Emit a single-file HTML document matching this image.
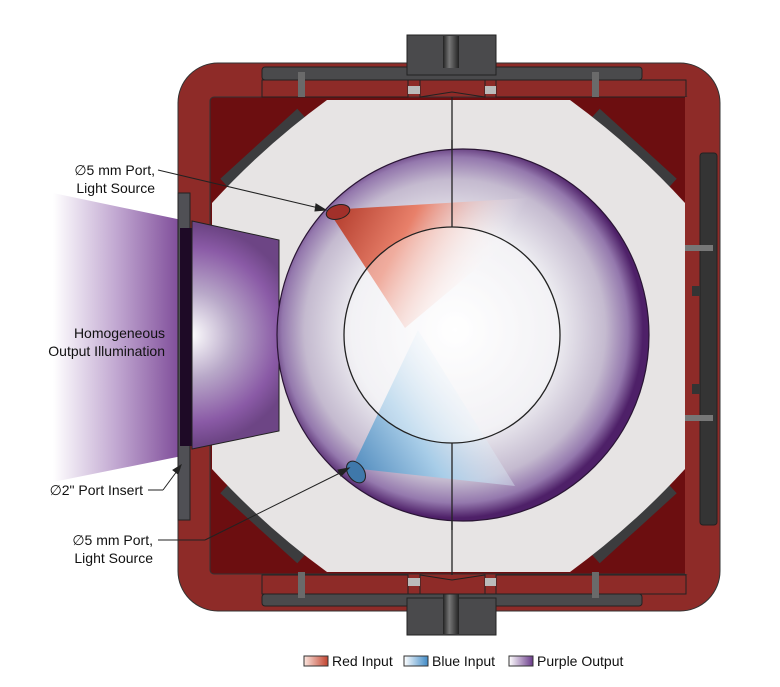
<!DOCTYPE html>
<html><head><meta charset="utf-8"><style>
html,body{margin:0;padding:0;background:#fff}
svg{display:block}
text{font-family:"Liberation Sans",sans-serif;font-size:14px;fill:#111}
</style></head><body>
<svg width="780" height="687" viewBox="0 0 780 687" xmlns="http://www.w3.org/2000/svg">
<defs>
<linearGradient id="beam" x1="0" x2="1" y1="0" y2="0">
<stop offset="0" stop-color="#fff"/><stop offset="0.5" stop-color="#c0a6d0"/><stop offset="1" stop-color="#7d4a98"/></linearGradient>
<radialGradient id="sph" cx="455" cy="330" r="188" gradientUnits="userSpaceOnUse">
<stop offset="0" stop-color="#ffffff"/><stop offset="0.55" stop-color="#ecebf0"/><stop offset="0.8" stop-color="#c4bacf"/><stop offset="0.92" stop-color="#9478ad"/><stop offset="1" stop-color="#4e2068"/></radialGradient>
<radialGradient id="ins" cx="190" cy="335" r="110" gradientUnits="userSpaceOnUse">
<stop offset="0" stop-color="#fff"/><stop offset="0.4" stop-color="#b8a8c8"/><stop offset="0.8" stop-color="#8a5aa6"/><stop offset="1" stop-color="#6d4585"/></radialGradient>
<linearGradient id="red" x1="330" y1="210" x2="480" y2="290" gradientUnits="userSpaceOnUse">
<stop offset="0" stop-color="#b0392a"/><stop offset="0.45" stop-color="#e8806a"/><stop offset="1" stop-color="#fff" stop-opacity="0"/></linearGradient>
<linearGradient id="blue" x1="350" y1="475" x2="490" y2="380" gradientUnits="userSpaceOnUse">
<stop offset="0" stop-color="#4a86ba"/><stop offset="0.45" stop-color="#a8cde8"/><stop offset="1" stop-color="#fff" stop-opacity="0"/></linearGradient>
<linearGradient id="lr" x1="0" x2="1"><stop offset="0" stop-color="#fbe6df"/><stop offset="1" stop-color="#c2432f"/></linearGradient>
<linearGradient id="lb" x1="0" x2="1"><stop offset="0" stop-color="#fff"/><stop offset="1" stop-color="#3f8ac6"/></linearGradient>
<linearGradient id="lp" x1="0" x2="1"><stop offset="0" stop-color="#fff"/><stop offset="1" stop-color="#6a3a8a"/></linearGradient>
<linearGradient id="pin" x1="0" x2="1"><stop offset="0" stop-color="#222"/><stop offset="0.4" stop-color="#777"/><stop offset="1" stop-color="#222"/></linearGradient>
</defs>

<polygon points="53,193 182,220 182,456 53,482" fill="url(#beam)"/>

<rect x="178" y="63" width="542" height="548" rx="40" fill="#8e2b28" stroke="#333" stroke-width="1"/>
<rect x="210" y="97" width="480" height="477" rx="4" fill="#6c0e10" stroke="#333" stroke-width="1"/>

<rect x="262" y="67" width="380" height="13" rx="3" fill="#4a4a4c" stroke="#222"/>
<rect x="407" y="35" width="89" height="40" fill="#4a4a4c" stroke="#222"/>
<rect x="443" y="36" width="16" height="32" fill="url(#pin)"/>
<rect x="262" y="80" width="146" height="17" fill="#8e2b28" stroke="#222"/>
<rect x="496" y="80" width="190" height="17" fill="#8e2b28" stroke="#222"/>
<polygon points="420,80 485,80 485,97 452,92 420,97" fill="#8e2b28" stroke="#222"/>
<rect x="408" y="86" width="12" height="8" fill="#bbb"/><rect x="485" y="86" width="11" height="8" fill="#bbb"/>
<rect x="298" y="72" width="7" height="25" fill="#6a6a6a"/><rect x="592" y="72" width="7" height="25" fill="#6a6a6a"/>
<rect x="262" y="594" width="380" height="12" rx="3" fill="#4a4a4c" stroke="#222"/>
<rect x="407" y="598" width="89" height="37" fill="#4a4a4c" stroke="#222"/>
<rect x="443" y="590" width="16" height="44" fill="url(#pin)"/>
<rect x="262" y="575" width="146" height="19" fill="#8e2b28" stroke="#222"/>
<rect x="496" y="575" width="190" height="19" fill="#8e2b28" stroke="#222"/>
<polygon points="420,594 485,594 485,575 452,580 420,575" fill="#8e2b28" stroke="#222"/>
<rect x="408" y="578" width="12" height="8" fill="#bbb"/><rect x="485" y="578" width="11" height="8" fill="#bbb"/>
<rect x="298" y="572" width="7" height="26" fill="#6a6a6a"/><rect x="592" y="572" width="7" height="26" fill="#6a6a6a"/>

<rect x="685" y="97" width="32" height="477" fill="#8e2b28"/>
<rect x="700" y="153" width="17" height="372" rx="3" fill="#343434" stroke="#222"/>
<rect x="685" y="245" width="28" height="6" fill="#777"/><rect x="685" y="415" width="28" height="6" fill="#777"/>
<rect x="692" y="286" width="8" height="10" fill="#343434"/><rect x="692" y="384" width="8" height="10" fill="#343434"/>

<rect x="178" y="193" width="12" height="327" fill="#505055" stroke="#222"/>
<rect x="180" y="228" width="13" height="218" fill="#1e0a26"/>

<g stroke="#3c3c3e" stroke-width="17" stroke-linecap="butt">
<line x1="226" y1="185" x2="303" y2="115"/>
<line x1="671" y1="185" x2="594" y2="115"/>
<line x1="226" y1="487" x2="303" y2="557"/>
<line x1="671" y1="487" x2="594" y2="557"/>
</g>
<path d="M327,100 L570,100 Q633,146 685,203 L685,469 Q633,526 570,572 L327,572 Q264,526 212,469 L212,203 Q264,146 327,100 Z" fill="#e7e4e4"/>

<line x1="452" y1="97" x2="452" y2="575" stroke="#222" stroke-width="1.3"/>

<polygon points="192,221 279,240 279,431 192,449" fill="url(#ins)" stroke="#222"/>

<circle cx="463" cy="335" r="186" fill="url(#sph)" stroke="#2a1535" stroke-width="1.2"/>
<polygon points="328,210 563,196 405,328" fill="url(#red)"/>
<polygon points="352,468 515,486 418,330" fill="url(#blue)"/>
<circle cx="452" cy="335" r="108" fill="#fff" fill-opacity="0.35" stroke="#222" stroke-width="1.3"/>
<line x1="452" y1="140" x2="452" y2="227" stroke="#222" stroke-width="1.3"/>
<line x1="452" y1="443" x2="452" y2="530" stroke="#222" stroke-width="1.3"/>
<ellipse cx="338" cy="212" rx="12" ry="7" transform="rotate(-15 338 212)" fill="#a2302a" stroke="#222"/>
<ellipse cx="356" cy="472" rx="8" ry="12" transform="rotate(-35 356 472)" fill="#3f78aa" stroke="#222"/>

<g stroke="#222" stroke-width="1" fill="#222">
<line x1="158" y1="170" x2="323" y2="209"/><polygon points="326,210 316,204 315,211"/>
<line x1="148" y1="490" x2="163" y2="490"/><line x1="163" y1="490" x2="180" y2="467"/><polygon points="181,465 173,470 178,474"/>
<line x1="158" y1="540" x2="205" y2="540"/><line x1="205" y1="540" x2="346" y2="470"/><polygon points="349,468 338,470 341,476"/>
</g>

<g text-anchor="end">
<text x="155" y="175">∅5 mm Port,</text>
<text x="155" y="193">Light Source</text>
<text x="165" y="338">Homogeneous</text>
<text x="165" y="356">Output Illumination</text>
<text x="143" y="495">∅2" Port Insert</text>
<text x="153" y="545">∅5 mm Port,</text>
<text x="153" y="563">Light Source</text>
</g>

<rect x="304" y="656" width="24" height="10" fill="url(#lr)" stroke="#333"/>
<text x="332" y="666">Red Input</text>
<rect x="404" y="656" width="24" height="10" fill="url(#lb)" stroke="#333"/>
<text x="432" y="666">Blue Input</text>
<rect x="509" y="656" width="24" height="10" fill="url(#lp)" stroke="#333"/>
<text x="537" y="666">Purple Output</text>
</svg>
</body></html>
